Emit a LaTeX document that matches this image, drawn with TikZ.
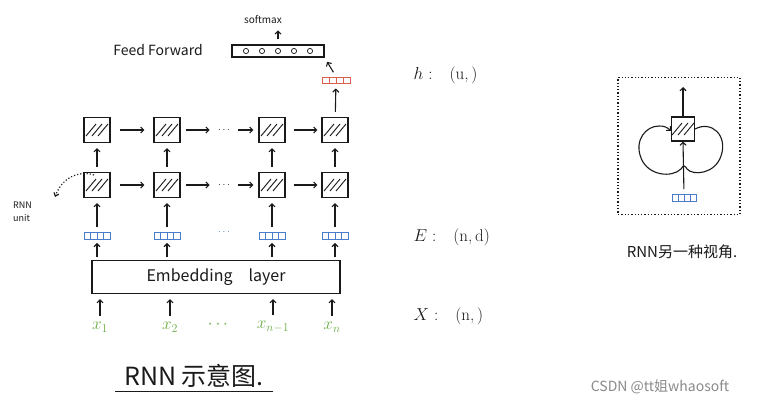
\documentclass[tikz,border=0pt]{standalone}
\usepackage{fontspec}
\newfontfamily\cjk{Noto Sans CJK SC}
\usetikzlibrary{arrows.meta,calc}
\definecolor{tinte}{HTML}{1A1A1A}
\definecolor{blau}{HTML}{4A7CC9}
\definecolor{rot}{HTML}{D9604F}
\definecolor{gruen}{HTML}{6BAF45}
\definecolor{wgrau}{HTML}{8A8A8A}
\tikzset{
  arr/.style={-{Straight Barb[length=3pt,width=6pt]},tinte,line width=1.1pt,shorten <=5pt,shorten >=5pt},
  zelle/.style={draw=tinte,line width=1.1pt,minimum width=26pt,minimum height=25pt,inner sep=0pt,
    path picture={\foreach \d in {-6,0,6}
      \draw[tinte,line width=0.9pt] ($(path picture bounding box.center)+(\d-5,6)$)--($(path picture bounding box.center)+(\d+5,-6)$);}},
  vekt/.style={draw=#1,line width=0.9pt,minimum width=26pt,minimum height=7pt,inner sep=0pt,
    path picture={\foreach \t in {0.25,0.5,0.75}
      \draw[#1,line width=0.7pt] ($(path picture bounding box.north west)!\t!(path picture bounding box.north east)$)--($(path picture bounding box.south west)!\t!(path picture bounding box.south east)$);}},
  hand/.style={font=\cjk\fontsize{#1}{#1}\selectfont,tinte,inner sep=1pt},
  xlab/.style={gruen,font=\fontsize{18}{18}\selectfont,inner sep=1pt},
}

\begin{document}
\begin{tikzpicture}[x=1pt,y=-1pt]
  \useasboundingbox[fill=white] (0,0) rectangle (774,406);
  % feed forward and softmax
  \node[hand=10] (SM) at (263,20) {softmax};
  \node[draw=tinte,line width=1.1pt,minimum width=92pt,minimum height=12pt,inner sep=0pt,
    path picture={\foreach \cx in {-32,-16,0,16,32}
      \draw[tinte,line width=0.7pt] ($(path picture bounding box.center)+(\cx,0)$) circle (2.6pt);}] (FF) at (278,51) {};
  \node[hand=14] (FFt) at (158,50) {Feed Forward};
  \node[vekt=rot,minimum width=28pt,minimum height=6pt] (R) at (336,80) {};
  \draw[arr] (FF.north) -- (FF.north |- SM.south);
  \draw[arr] (R.north) -- (FF.south east);
  % rnn cells, vectors
  \foreach \n/\x in {1/97,2/167,3/272,4/335}{
    \node[zelle] (U\n) at (\x,130) {};
    \node[zelle] (L\n) at (\x,185) {};
    \node[vekt=blau] (E\n) at (\x,236) {};
  }
  \node[tinte] (DU) at (224,130) {$\cdots$};
  \node[tinte] (DL) at (224,185) {$\cdots$};
  \node[blau] (DE) at (224,232) {$\cdots$};
  \foreach \r in {U,L}{
    \draw[arr,shorten <=9pt,shorten >=9pt] (\r1) -- (\r2);
    \draw[arr] (\r2) -- (D\r);
    \draw[arr] (D\r) -- (\r3);
    \draw[arr,shorten <=8pt,shorten >=4pt] (\r3) -- (\r4);
  }
  \foreach \n in {1,...,4}{
    \draw[arr] (L\n) -- (U\n);
    \draw[arr] (E\n) -- (L\n);
  }
  \draw[arr] (U4) -- (R);
  % rnn unit label
  \node[hand=9,align=left,anchor=west] (RU) at (12,212) {RNN\\[4pt]unit};
  \coordinate (RUtip) at (55,197);
  \draw[tinte,dotted,line width=1.2pt,-{Straight Barb[length=3pt,width=5pt]}] ([xshift=-3pt,yshift=-3pt]L1.north) .. controls (78,170) and (62,178) .. (RUtip);
  % embedding layer and inputs
  \node[draw=tinte,line width=1.1pt,minimum width=248pt,minimum height=33pt,hand=16] (EMB) at (216,277) {Embedding\quad layer};
  \node[xlab] (X1) at (100,327) {$x_{1}$};
  \node[xlab] (X2) at (170,327) {$x_{2}$};
  \node[xlab] (XD) at (218,325) {$\cdots$};
  \node[xlab] (X3) at (273,327) {$x_{n-1}$};
  \node[xlab] (X4) at (332,327) {$x_{n}$};
  \foreach \n in {1,...,4}{
    \draw[arr,shorten <=3pt,shorten >=3pt] (E\n.south |- EMB.north) -- (E\n.south);
    \draw[arr] (X\n.north) -- (X\n.north |- EMB.south);
  }
  % title
  \node[hand=25] (TT) at (194,376) {RNN 示意图.};
  \draw[tinte,line width=1.3pt] ([xshift=-8pt,yshift=-3pt]TT.south west) -- ([xshift=8pt,yshift=-3pt]TT.south east);
  % shapes
  \node[anchor=west,tinte,font=\fontsize{17}{17}\selectfont] (Hl) at (410,75) {$h$ :\quad(u,\,)};
  \node[anchor=west,tinte,font=\fontsize{17}{17}\selectfont] (El) at (410,237) {$E$ :\quad(n,\,d)};
  \node[anchor=west,tinte,font=\fontsize{17}{17}\selectfont] (Xl) at (410,316) {$X$ :\quad(n,\,)};
  % other view
  \node[draw=tinte,dotted,line width=1.3pt,minimum width=122pt,minimum height=137pt] (RB) at (679,146) {};
  \node[zelle,minimum width=23pt,minimum height=24pt] (C) at (683,129) {};
  \node[vekt=blau,minimum width=24pt] (V) at (684,198) {};
  \coordinate (T) at (683,87);
  \draw[arr,shorten <=0pt,shorten >=0pt] (C.north) -- (T);
  \draw[arr,shorten <=5pt,shorten >=0pt] (V.north) -- (C.south);
  \draw[tinte,line width=1.1pt,-{Straight Barb[length=3pt,width=6pt]}] (C.east) .. controls (712,120) and (728,136) .. (721,156)
    .. controls (715,174) and (693,176) .. (687,169) .. controls (685,165) and (683,165) .. (681,169)
    .. controls (672,178) and (648,176) .. (641,158) .. controls (634,140) and (646,126) .. (659,126)
    .. controls (664,126) and (667,127) .. ([yshift=-2pt]C.west);
  \node[hand=15] (RC) at (682,252) {RNN另一种视角.};
  % watermark
  \node[font=\cjk\fontsize{14}{14}\selectfont,wgrau] (WM) at (660,387) {CSDN @tt姐whaosoft};
\end{tikzpicture}
\end{document}
